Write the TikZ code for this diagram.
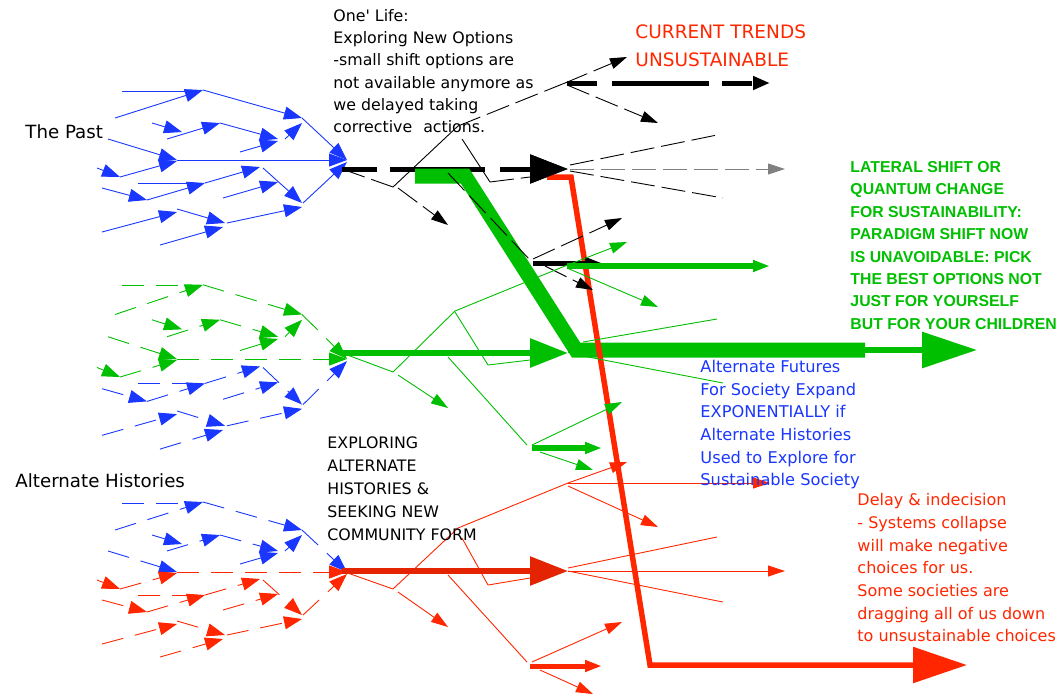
\documentclass[tikz,border=0pt]{standalone}
\usepackage{fontspec}
\setmainfont{DejaVu Sans}[Ligatures=TeXOff]
\newfontfamily\headfont{Liberation Sans}
\usepackage{tikz}
\usetikzlibrary{arrows.meta}

\definecolor{pastblue}{RGB}{25,55,255}
\definecolor{shiftgreen}{RGB}{0,190,0}
\definecolor{trendred}{RGB}{255,38,0}
\definecolor{mainred}{RGB}{228,36,0}

\tikzset{
  fantip/.style={-{Triangle[length=18pt,width=13pt]}},
  thintip/.style={-{Triangle[length=17pt,width=11pt]}},
  bigtip/.style={-{Triangle[length=38pt,width=28pt]}},
  fandash/.style={dash pattern=on 22pt off 12pt},
  brdash/.style={dash pattern=on 24pt off 7pt},
  thickdash/.style={dash pattern=on 35pt off 13pt on 95pt off 15pt},
  label/.style={inner sep=0pt,anchor=north west,align=left},
}

% fan of past paths, y relative to the point where they meet
\newcommand{\fantop}{115/-42/203/-70, 203/-70/302/-42, 152/-37/182/-28,
  167/-21/220/-37, 220/-37/278/-21, 240/-8/278/-19, 285/-21/302/-37,
  302/-42/347/0, 108/-21/177/0}
\newcommand{\fanmid}{177/0/347/0, 97/8/120/17, 120/17/177/1}
\newcommand{\fanbot}{147/40/205/23, 102/28/147/40, 205/23/260/7,
  263/8/302/43, 223/38/278/22, 303/43/347/2, 177/49/225/63,
  102/72/177/52, 227/63/302/47, 160/85/223/67}
\newcommand{\drawfan}[3]{%
  \draw[#1] (122,-69) -- (192,-69);
  \foreach \xa/\ya/\xb/\yb in \fantop {\draw[#1,fantip] (\xa,\ya) -- (\xb,\yb);}
  \foreach \xa/\ya/\xb/\yb in \fanmid {\draw[#2,fantip] (\xa,\ya) -- (\xb,\yb);}
  \draw[#3] (138,23) -- (195,23);
  \foreach \xa/\ya/\xb/\yb in \fanbot {\draw[#3,fantip] (\xa,\ya) -- (\xb,\yb);}
}

\begin{document}
\begin{tikzpicture}[x=1pt,y=-1pt,line width=0.9pt]
\useasboundingbox (0,0) rectangle (1064,694);

% the three fans
\begin{scope}[shift={(0,160)}]
  \drawfan{pastblue}{pastblue}{pastblue}
\end{scope}
\begin{scope}[shift={(0,359)},yscale=1.06,fandash]
  \drawfan{shiftgreen}{shiftgreen}{pastblue}
\end{scope}
\begin{scope}[shift={(0,572)},fandash]
  \drawfan{pastblue}{trendred}{trendred}
\end{scope}

% current trends (black)
\draw[line width=5pt,thickdash,bigtip] (342,169) -- (568,169);

% green shift
\draw[shiftgreen,line width=6pt,-{Triangle[length=55pt,width=35pt]}] (568,350) -- (977,350);
\draw[shiftgreen,line width=15pt,line join=miter] (415,176) -- (465,176) -- (576,350) -- (865,350);

% red collapse
\draw[trendred,line width=5.5pt,-{Triangle[length=54pt,width=35pt]}] (547,177) -- (571,177) -- (650,665) -- (967,665);
\draw[line width=5pt,bigtip] (529,169) -- (568,169);

% black branches
\foreach \xa/\ya/\xb/\yb in {342/169/393/187, 458/126/565/83, 490/182/530/177,
  448/173/530/260, 570/165/717/135, 570/171/723/198}
  \draw[brdash] (\xa,\ya) -- (\xb,\yb);
\foreach \xa/\ya/\xb/\yb in {565/83/627/57, 567/85/658/123, 398/188/448/225,
  533/259/622/218, 545/266/593/290}
  \draw[brdash,thintip] (\xa,\ya) -- (\xb,\yb);
\draw (393,187) -- (458,126);
\draw (462,139) -- (490,182);
\draw[gray,brdash,thintip] (570,169) -- (785,169);
\draw[line width=5pt,dash pattern=on 30pt off 15pt on 97pt off 13pt,
  -{Triangle[length=17pt,width=13pt]}] (567,83) -- (770,83);
\draw[line width=5pt,thintip] (533,263) -- (602,263);

% green branches
\begin{scope}[shiftgreen]
\foreach \xa/\ya/\xb/\yb in {342/353/393/372, 393/372/455/311, 455/311/565/266,
  455/312/488/365, 488/365/530/360, 448/357/527/445, 583/342/717/319, 583/356/723/383}
  \draw (\xa,\ya) -- (\xb,\yb);
\foreach \xa/\ya/\xb/\yb in {565/266/627/242, 567/268/658/307, 398/375/448/408,
  532/445/622/402, 540/452/593/470}
  \draw[thintip] (\xa,\ya) -- (\xb,\yb);
\draw[line width=6pt,thintip] (567,266) -- (770,266);
\draw[line width=5.5pt,thintip] (532,448) -- (602,448);
\draw[line width=6pt,bigtip] (342,353) -- (568,353);
\end{scope}

% red branches
\begin{scope}[trendred]
\foreach \xa/\ya/\xb/\yb in {342/571/393/589, 393/589/458/528, 458/528/568/483,
  462/538/488/585, 488/585/530/578, 448/575/527/662, 568/568/717/537, 568/571/723/602}
  \draw (\xa,\ya) -- (\xb,\yb);
\foreach \xa/\ya/\xb/\yb in {568/483/627/462, 568/483/770/483, 568/486/658/527,
  398/592/448/627, 532/662/622/622, 540/670/593/694, 568/571/785/571}
  \draw[thintip] (\xa,\ya) -- (\xb,\yb);
\draw[line width=5pt,thintip] (530,666) -- (602,666);
\draw[mainred,line width=5.5pt,bigtip] (342,571) -- (568,571);
\end{scope}

% texts
\node[anchor=west,inner sep=0pt,font=\fontsize{18.2}{22}\selectfont] (pastlabel) at (25,132) {The Past};
\node[anchor=west,inner sep=0pt,font=\fontsize{18.2}{22}\selectfont] (altlabel) at (15,481) {Alternate Histories};
\node[label,font=\fontsize{15.8}{22.2}\selectfont] (onelife) at (333,9)
  {One' Life:\\Exploring New Options\\-small shift options are\\not available anymore as\\we delayed taking\\corrective\hspace{6pt} actions.};
\node[label,trendred,font=\fontsize{18.5}{28}\selectfont] (trends) at (635,24)
  {CURRENT TRENDS\\UNSUSTAINABLE};
\node[label,shiftgreen,font=\headfont\bfseries\fontsize{15.8}{22.4}\selectfont] (shift) at (850,161)
  {LATERAL SHIFT OR\\QUANTUM CHANGE\\FOR SUSTAINABILITY:\\PARADIGM SHIFT NOW\\IS UNAVOIDABLE: PICK\\THE BEST OPTIONS NOT\\JUST FOR YOURSELF\\BUT FOR YOUR CHILDREN};
\node[label,pastblue,font=\fontsize{16.2}{22.6}\selectfont] (futures) at (700,360)
  {Alternate Futures\\For Society Expand\\EXPONENTIALLY if\\Alternate Histories\\Used to Explore for\\Sustainable Society};
\node[label,trendred,font=\fontsize{16}{22.7}\selectfont] (delay) at (857,493)
  {Delay \& indecision\\- Systems collapse\\will make negative\\choices for us.\\Some societies are\\dragging all of us down\\to unsustainable choices};
\node[label,font=\fontsize{15.8}{23}\selectfont] (exploring) at (327,436)
  {EXPLORING\\ALTERNATE\\HISTORIES \&\\SEEKING NEW\\COMMUNITY FORM};
\end{tikzpicture}
\end{document}
